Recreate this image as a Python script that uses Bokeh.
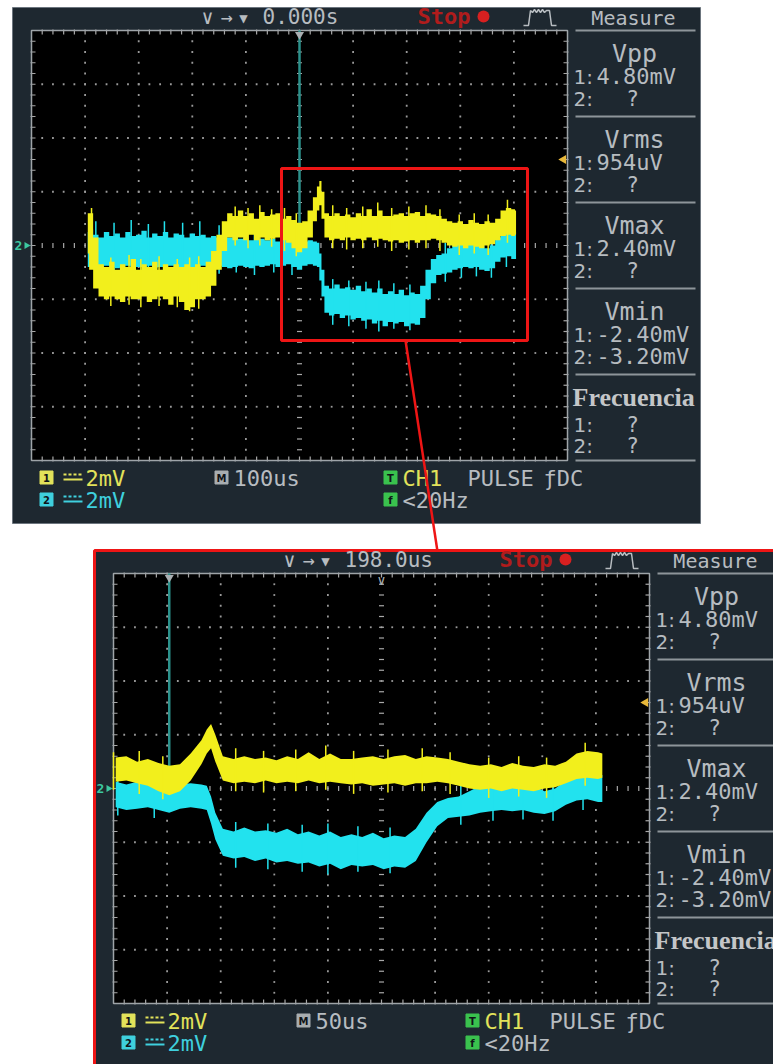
import numpy as np
from bokeh.plotting import figure
from bokeh.models import Range1d
from bokeh.embed import file_html
from bokeh.resources import INLINE
from bokeh.core.properties import value

# ---------------- data ----------------
time_us = [-395, -390, -380, -370, -360, -350, -340, -330, -320, -310,
           -300, -290, -280, -270, -260, -250, -240, -230, -220, -210,
           -200, -190, -180, -170, -160, -150, -140, -130, -120, -110,
           -100, -90, -80, -70, -60, -50, -40, -30, -20, -10,
           0, 10, 20, 30, 35, 39, 43, 50, 60, 70,
           80, 90, 100, 110, 120, 130, 140, 150, 160, 170,
           180, 190, 200, 210, 220, 230, 240, 250, 260, 270,
           280, 290, 300, 310, 320, 330, 340, 350, 360, 370,
           380, 390, 400, 404]

ch1_upper_mv = [1.2, 1.2, 0.3, -0.7, -0.8, -0.6, -0.9, -0.7, -0.8, -0.5,
                -0.9, -0.7, -0.8, -0.6, -0.9, -0.7, -0.8, -0.7, -0.8, -0.7,
                -0.8, -0.7, -0.8, -0.6, -0.2, 0.4, 0.9, 1.2, 1.1, 1.3,
                1.1, 1.2, 1.0, 1.25, 1.1, 1.15, 1.2, 1.0, 1.1, 0.95,
                0.85, 0.9, 1.3, 1.8, 2.2, 2.4, 2.0, 1.2, 1.1, 1.2,
                1.1, 1.15, 1.05, 1.2, 1.1, 1.35, 1.1, 1.3, 1.1, 1.1,
                1.15, 1.2, 1.1, 1.2, 1.25, 1.1, 1.2, 1.15, 1.1, 1.0,
                0.9, 0.85, 0.9, 0.8, 0.95, 0.85, 0.8, 0.9, 0.85, 1.0,
                1.3, 1.4, 1.35, 1.3]

ch1_lower_mv = [-0.3, -0.9, -1.6, -1.9, -2.0, -1.9, -2.0, -2.1, -1.9, -2.0,
                -2.0, -1.9, -2.1, -2.0, -1.9, -2.0, -2.2, -1.9, -2.1, -2.4,
                -2.3, -2.0, -2.0, -1.9, -1.5, -0.9, -0.2, 0.3, 0.2, 0.3,
                0.2, 0.4, 0.2, 0.3, 0.2, 0.25, 0.3, 0.2, 0.1, -0.1,
                -0.25, -0.1, 0.3, 0.9, 1.3, 1.5, 1.0, 0.3, 0.2, 0.25,
                0.2, 0.3, 0.2, 0.25, 0.2, 0.3, 0.2, 0.25, 0.2, 0.15,
                0.2, 0.1, 0.15, 0.2, 0.1, 0.2, 0.2, 0.25, 0.2, 0.1,
                0.0, -0.05, 0.0, -0.1, 0.0, -0.05, -0.1, 0.0, 0.05, 0.2,
                0.35, 0.4, 0.35, 0.4]

ch2_upper_mv = [0.5, 0.6, 0.4, 0.3, 0.5, 0.35, 0.45, 0.3, 0.5, 0.35,
                0.4, 0.55, 0.3, 0.45, 0.35, 0.5, 0.3, 0.45, 0.4, 0.3,
                0.45, 0.35, 0.4, 0.3, 0.35, 0.3, 0.4, 0.3, 0.35, 0.25,
                0.3, 0.2, 0.3, 0.25, 0.2, 0.25, 0.15, 0.25, 0.2, 0.1,
                0.05, 0.15, 0.2, 0.15, 0.1, -0.3, -0.9, -1.5, -1.6, -1.45,
                -1.6, -1.55, -1.65, -1.5, -1.7, -1.6, -1.75, -1.6, -1.8, -1.7,
                -1.8, -1.65, -1.85, -1.75, -1.8, -1.5, -0.9, -0.5, -0.35, -0.3,
                -0.1, 0.1, 0.2, 0.15, 0.25, 0.2, 0.1, -0.1, 0.0, 0.3,
                0.55, 0.6, 0.5, 0.5]

ch2_lower_mv = [-0.8, -0.8, -0.85, -0.8, -0.75, -0.8, -0.85, -0.8, -0.75, -0.85,
                -0.8, -0.8, -0.75, -0.85, -0.8, -0.8, -0.75, -0.85, -0.8, -0.8,
                -0.85, -0.8, -0.75, -0.8, -0.8, -0.75, -0.8, -0.85, -0.8, -0.75,
                -0.8, -0.85, -0.75, -0.8, -0.75, -0.7, -0.8, -0.75, -0.7, -0.8,
                -0.9, -0.75, -0.7, -0.75, -0.8, -1.3, -1.9, -2.5, -2.6, -2.55,
                -2.7, -2.6, -2.75, -2.7, -2.8, -2.75, -2.9, -2.8, -3.0, -2.85,
                -2.9, -2.85, -3.0, -2.9, -2.95, -2.7, -2.0, -1.4, -1.1, -1.05,
                -1.0, -0.9, -0.85, -0.8, -0.85, -0.8, -0.9, -0.95, -0.85, -0.6,
                -0.45, -0.4, -0.5, -0.5]

# noise spikes seen on the traces: time, top, bottom
ch1_spike_us = [-388, -352, -318, -296, -262, -228, -205, -188, -120, -96, -74, -52, -28,
                -6, 62, 88, 118, 146, 172, 204, 236, 262, 298, 326, 352, 388]
ch1_spike_top_mv = [1.4, -0.45, -0.35, -0.5, -0.4, -0.5, -0.45, -0.4, 1.45, 1.4, 1.5, 1.35, 1.4,
                    1.2, 1.5, 1.4, 1.45, 1.6, 1.4, 1.45, 1.5, 1.35, 1.15, 1.2, 1.15, 1.7]
ch1_spike_bot_mv = [-0.6, -2.25, -2.2, -2.3, -2.25, -2.3, -2.45, -2.35, 0.0, -0.1, 0.0, -0.05, -0.2,
                    -0.4, -0.1, -0.15, -0.1, -0.05, -0.2, -0.15, -0.1, -0.2, -0.35, -0.3, -0.35, 0.1]
ch2_spike_us = [-380, -346, -314, -282, -252, -218, -186, -150, -118, -84, -48, -14,
                62, 92, 124, 148, 176, 206, 272, 302, 330, 358, 386]
ch2_spike_top_mv = [0.9, 0.85, 0.95, 0.8, 0.9, 0.85, 0.9, 0.75, 0.8, 0.7, 0.6, 0.5,
                    -1.25, -1.3, -1.35, -1.3, -1.4, -1.45, 0.1, 0.6, 0.55, 0.35, 0.9]
ch2_spike_bot_mv = [-1.05, -1.0, -1.05, -1.1, -1.0, -1.05, -1.1, -1.05, -1.0, -1.1, -1.0, -1.1,
                    -2.95, -3.0, -3.1, -3.2, -3.1, -3.15, -1.35, -1.2, -1.15, -1.2, -0.8]

trigger_time_us = 0.0
trigger_level_mv = 3.2
mv_per_div = 2.0
n_hdiv, n_vdiv = 10, 8

screen_position_labels = ["0.000s", "198.0us"]
screen_center_us = [0.0, 198.0]
screen_us_per_div = [100.0, 50.0]
screen_timebase_labels = ["100us", "50us"]

measure_names = ["Vpp", "Vrms", "Vmax", "Vmin"]
measure_ch1 = ["4.80mV", "954uV", "2.40mV", "-2.40mV"]
measure_ch2 = ["?", "?", "?", "-3.20mV"]
freq_ch1, freq_ch2 = "?", "?"
channel_scale_labels = ["2mV", "2mV"]

# ---------------- layout / style ----------------
W, H = 773, 1064
X_MIN, X_MAX = 0, W
Y_MIN, Y_MAX = 0, H
MONO = "DejaVu Sans Mono"
SANS = "DejaVu Sans"
PANEL = "#1e2830"
GRAY_T = "#b7bcc0"
YEL = "#f2ef1c"
CYA = "#22e2ee"
YEL_T = "#e2e25a"
CYA_T = "#3fd0de"
GREEN = "#3ac24e"
RED = "#ee1515"

p = figure(width=W, height=H, x_range=Range1d(X_MIN, X_MAX), y_range=Range1d(Y_MAX, Y_MIN),
           output_backend="svg", toolbar_location=None, min_border=0,
           x_axis_location=None, y_axis_location=None,
           background_fill_color="white", border_fill_color="white", outline_line_color=None)
p.grid.visible = False

GX0, GX1, GY0, GY1 = 31, 567, 30, 460
offsets = [(0, 0), (82, 543)]

xr, yr = {}, {}
geo = []
for k, (ox, oy) in enumerate(offsets):
    tc, td = screen_center_us[k], screen_us_per_div[k]
    gx0, gx1, gy0, gy1 = GX0 + ox, GX1 + ox, GY0 + oy, GY1 + oy
    t_lo, t_hi = tc - n_hdiv / 2 * td, tc + n_hdiv / 2 * td
    v_hi = n_vdiv / 2 * mv_per_div
    v_lo = -v_hi
    kx = (gx1 - gx0) / (t_hi - t_lo)
    ky = (gy1 - gy0) / (v_hi - v_lo)
    xr[f"t{k}"] = Range1d(t_lo + (X_MIN - gx0) / kx, t_lo + (X_MAX - gx0) / kx)
    yr[f"v{k}"] = Range1d(v_hi - (Y_MAX - gy0) / ky, v_hi - (Y_MIN - gy0) / ky)
    geo.append(dict(ox=ox, oy=oy, tc=tc, td=td, t_lo=t_lo, t_hi=t_hi, v_lo=v_lo, v_hi=v_hi,
                    kx=kx, ky=ky, gx0=gx0, gy0=gy0, gx1=gx1, gy1=gy1))
p.extra_x_ranges = xr
p.extra_y_ranges = yr


def txt(x, y, s, size, color, font=MONO, align="left", style="normal"):
    p.text(x=[x], y=[y], text=[s], text_font=value(font), text_font_size=value(f"{size}px"),
           text_color=color, text_align=align, text_baseline="middle", text_font_style=style)


def icon(x, y, ch, fill):
    p.scatter(x=[x], y=[y], marker="square", size=13, fill_color=fill, line_color=fill)
    txt(x, y + 0.5, ch, 10, "#101418", font=SANS, align="center", style="bold")


def band(x, lo, hi, color, stepped, R):
    if stepped and hasattr(p, "varea_step"):
        p.varea_step(x=x, y1=lo, y2=hi, step_mode="center", fill_color=color, **R)
    else:
        p.varea(x=x, y1=lo, y2=hi, fill_color=color, **R)


t_arr = np.array(time_us, dtype=float)
c1u, c1l = np.array(ch1_upper_mv), np.array(ch1_lower_mv)
c2u, c2l = np.array(ch2_upper_mv), np.array(ch2_lower_mv)
s1t, s1a, s1b = np.array(ch1_spike_us, float), np.array(ch1_spike_top_mv), np.array(ch1_spike_bot_mv)
s2t, s2a, s2b = np.array(ch2_spike_us, float), np.array(ch2_spike_top_mv), np.array(ch2_spike_bot_mv)

for k, g in enumerate(geo):
    ox, oy = g["ox"], g["oy"]
    xn, yn = f"t{k}", f"v{k}"
    R = dict(x_range_name=xn, y_range_name=yn)
    p.quad(left=12 + ox, right=700 + ox, top=7 + oy, bottom=523 + oy, fill_color=PANEL,
           line_color=RED if k == 1 else "#6c757e", line_width=3 if k == 1 else 1)
    p.quad(left=g["t_lo"], right=g["t_hi"], top=g["v_hi"], bottom=g["v_lo"],
           fill_color="black", line_color=None, **R)
    td, vd = g["td"], mv_per_div
    dx, dy = [], []
    for i in range(1, n_hdiv):
        if i == n_hdiv // 2:
            continue
        for j in range(1, n_vdiv * 5):
            dx.append(g["t_lo"] + i * td)
            dy.append(g["v_lo"] + j * vd / 5)
    for j in range(1, n_vdiv):
        if j == n_vdiv // 2:
            continue
        for i in range(1, n_hdiv * 5):
            dx.append(g["t_lo"] + i * td / 5)
            dy.append(g["v_lo"] + j * vd)
    p.scatter(x=dx, y=dy, marker="square", size=1.8, fill_color="#9a9a9a", line_color=None, **R)
    cy = [g["v_lo"] + j * vd / 5 for j in range(1, n_vdiv * 5)]
    p.scatter(x=[g["tc"]] * len(cy), y=cy, marker="dash", size=5, line_color="#a8a8a8", line_width=1.2, **R)
    cx = [g["t_lo"] + i * td / 5 for i in range(1, n_hdiv * 5)]
    p.scatter(x=cx, y=[0.0] * len(cx), marker="dash", angle=np.pi / 2, size=5, line_color="#a8a8a8", line_width=1.2, **R)
    bx = [g["t_lo"] + i * td / 5 for i in range(1, n_hdiv * 5)]
    p.scatter(x=bx, y=[g["v_hi"] - 1.5 / g["ky"]] * len(bx), marker="dash", angle=np.pi / 2, size=5,
              line_color="#a8a8a8", line_width=1.2, **R)
    p.scatter(x=bx, y=[g["v_lo"] + 1.5 / g["ky"]] * len(bx), marker="dash", angle=np.pi / 2, size=5,
              line_color="#a8a8a8", line_width=1.2, **R)
    by = [g["v_lo"] + j * vd / 5 for j in range(1, n_vdiv * 5)]
    p.scatter(x=[g["t_lo"] + 1.5 / g["kx"]] * len(by), y=by, marker="dash", size=5,
              line_color="#a8a8a8", line_width=1.2, **R)
    p.scatter(x=[g["t_hi"] - 1.5 / g["kx"]] * len(by), y=by, marker="dash", size=5,
              line_color="#a8a8a8", line_width=1.2, **R)
    p.quad(left=g["t_lo"], right=g["t_hi"], top=g["v_hi"], bottom=g["v_lo"],
           fill_color=None, line_color="#9ea4a8", line_width=1.5, **R)
    p.segment(x0=[trigger_time_us], y0=[g["v_hi"]], x1=[trigger_time_us], y1=[0.0],
              line_color="#2b918b", line_width=2.5, **R)
    p.scatter(x=[trigger_time_us], y=[g["v_hi"] - 4 / g["ky"]], marker="inverted_triangle", size=9,
              fill_color="#a9afb2", line_color=None, **R)
    if k == 1:
        txt(g["gx0"] + (g["tc"] - g["t_lo"]) * g["kx"], g["gy0"] + 6, "∨", 14, "#a9afb2", align="center")
    # traces (coarse timebase drawn stepped, zoomed one drawn linear)
    stepped = (k == 0)
    m = (t_arr >= g["t_lo"]) & (t_arr <= g["t_hi"])
    band(t_arr[m], c2l[m], c2u[m], CYA, stepped, R)
    ms = (s2t >= g["t_lo"]) & (s2t <= g["t_hi"])
    p.segment(x0=s2t[ms], y0=s2b[ms], x1=s2t[ms], y1=s2a[ms], line_color=CYA, line_width=1.5, **R)
    band(t_arr[m], c1l[m], c1u[m], YEL, stepped, R)
    ms = (s1t >= g["t_lo"]) & (s1t <= g["t_hi"])
    p.segment(x0=s1t[ms], y0=s1b[ms], x1=s1t[ms], y1=s1a[ms], line_color=YEL, line_width=1.5, **R)
    p.scatter(x=[g["t_hi"] - 4 / g["kx"]], y=[trigger_level_mv], marker="triangle", angle=np.pi / 2,
              size=9, fill_color="#e8b83a", line_color=None, **R)
    gy_mid = (g["gy0"] + g["gy1"]) / 2
    txt(18 + ox, gy_mid, "2", 13, "#3cc8a0", align="center", style="bold")
    p.scatter(x=[26 + ox], y=[gy_mid], marker="triangle", angle=-np.pi / 2, size=7,
              fill_color="#3cc8a0", line_color=None)

    # header
    txt(207 + ox, 16 + oy, "∨", 20, GRAY_T, align="center")
    txt(226 + ox, 16 + oy, "→", 20, GRAY_T, align="center")
    txt(243 + ox, 17 + oy, "▼", 14, GRAY_T, align="center")
    txt(262 + ox, 16 + oy, screen_position_labels[k], 21, GRAY_T)
    txt(417 + ox, 16 + oy, "Stop", 22, "#b01c1c", style="bold")
    p.scatter(x=[483 + ox], y=[16 + oy], marker="circle", size=12, fill_color="#d82020", line_color=None)
    px_ = [523, 528, 530, 532, 534, 536, 538, 540, 542, 544, 546, 549, 551, 556]
    py_ = [25, 25, 10, 12, 9, 12, 9, 12, 9, 12, 10, 10, 25, 25]
    p.line(x=[v + ox for v in px_], y=[v + oy for v in py_], line_color=GRAY_T, line_width=1.5)
    txt(633 + ox, 17 + oy, "Measure", 20, GRAY_T, align="center")

    # measure panel
    for n in range(4):
        y0 = 53 + 86 * n + oy
        txt(634 + ox, y0, measure_names[n], 25, GRAY_T, align="center")
        for r, (pre, val) in enumerate([("1:", measure_ch1[n]), ("2:", measure_ch2[n])]):
            yy = y0 + 23 + 22 * r
            txt(573 + ox, yy, pre, 20, GRAY_T, font=SANS)
            if val == "?":
                txt(632 + ox, yy, "?", 21, GRAY_T, align="center")
            else:
                txt(596 + ox, yy, val, 22, GRAY_T)
    for ys in [30, 116, 202, 288, 374, 460]:
        p.segment(x0=[575 + ox], y0=[ys + oy], x1=[695 + ox], y1=[ys + oy], line_color="#8e959a", line_width=2)
    txt(572 + ox, 397 + oy, "Frecuencia", 26, "#c4c6c8", font="Liberation Serif", style="bold")
    txt(573 + ox, 424 + oy, "1:", 20, GRAY_T, font=SANS)
    txt(632 + ox, 424 + oy, freq_ch1, 21, GRAY_T, align="center")
    txt(573 + ox, 445 + oy, "2:", 20, GRAY_T, font=SANS)
    txt(632 + ox, 445 + oy, freq_ch2, 21, GRAY_T, align="center")

    # bottom status
    for r, (col, lab, ch) in enumerate([(YEL_T, channel_scale_labels[0], "1"), (CYA_T, channel_scale_labels[1], "2")]):
        yy = 477 + 22 * r + oy
        icon(46 + ox, yy, ch, col)
        p.segment(x0=[63 + ox], y0=[yy - 3], x1=[82 + ox], y1=[yy - 3], line_color=col, line_width=2, line_dash="3 2")
        p.segment(x0=[63 + ox], y0=[yy + 2], x1=[82 + ox], y1=[yy + 2], line_color=col, line_width=2)
        txt(85 + ox, yy + 1, lab, 22, col)
    icon(221 + ox, 477 + oy, "M", "#a8adb0")
    txt(233 + ox, 478 + oy, screen_timebase_labels[k], 22, GRAY_T)
    icon(390 + ox, 477 + oy, "T", GREEN)
    txt(402 + ox, 478 + oy, "CH1", 22, YEL_T)
    txt(467 + ox, 478 + oy, "PULSE", 22, GRAY_T)
    txt(543 + ox, 478 + oy, "ƒDC", 22, GRAY_T)
    icon(390 + ox, 499 + oy, "f", GREEN)
    txt(402 + ox, 500 + oy, "<20Hz", 22, GRAY_T)

    if k == 0:
        p.quad(left=281, right=527, top=168, bottom=340, fill_color=None, line_color=RED, line_width=3)

p.segment(x0=[405], y0=[340], x1=[437], y1=[551], line_color=RED, line_width=2.5)

open("out.html", "w").write(file_html(p, INLINE))
